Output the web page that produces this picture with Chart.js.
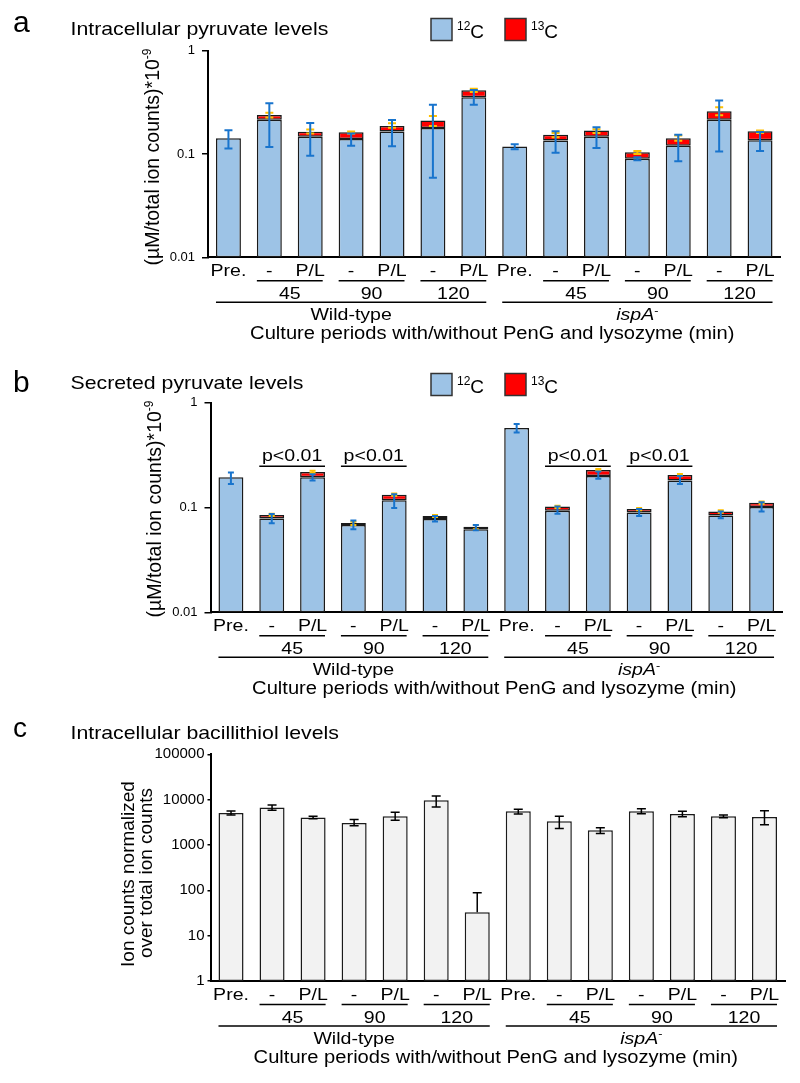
<!DOCTYPE html>
<html lang="en">
<head>
<meta charset="UTF-8">
<title>Pyruvate and bacillithiol levels</title>
<script src="https://cdn.jsdelivr.net/npm/chart.js"></script>
<style>
  body { margin: 0; background: #fff; }
  .panel { position: absolute; left: 0; }
</style>
</head>
<body>
<canvas id="chartA" class="panel" style="top:0px" width="800" height="355"></canvas>
<canvas id="chartB" class="panel" style="top:355px" width="800" height="355"></canvas>
<canvas id="chartC" class="panel" style="top:710px" width="800" height="373"></canvas>

<script>
// x axis: the same 14 bars in every panel
const categories = ['Pre.', '-', 'P/L', '-', 'P/L', '-', 'P/L', 'Pre.', '-', 'P/L', '-', 'P/L', '-', 'P/L'];
const timeLabels = ['45', '90', '120', '45', '90', '120'];
const timeFirstBar = [1, 3, 5, 8, 10, 12];
const strainFirstBar = [0, 7];
const strainLastBar = [6, 13];
const xAxisTitle = 'Culture periods with/without PenG and lysozyme (min)';

// log axis ticks
const pyrTicks = [0.01, 0.1, 1];
const pyrTickLabels = ['0.01', '0.1', '1'];
const bslTicks = [1, 10, 100, 1000, 10000, 100000];
const bslTickLabels = ['1', '10', '100', '1000', '10000', '100000'];

// a: intracellular pyruvate (uM/total ion counts *10^-9)
const a12C = [0.142, 0.215, 0.147, 0.140, 0.165, 0.179, 0.355, 0.118, 0.135, 0.147, 0.090, 0.120, 0.215, 0.136];
const a13C = [null, 0.023, 0.017, 0.022, 0.022, 0.032, 0.060, null, 0.019, 0.022, 0.014, 0.022, 0.045, 0.030];
const a12CErrLo = [0.113, 0.117, 0.096, 0.120, 0.119, 0.059, 0.300, 0.111, 0.103, 0.114, 0.087, 0.085, 0.106, 0.107];
const a12CErrHi = [0.170, 0.310, 0.200, 0.158, 0.213, 0.300, 0.417, 0.124, 0.166, 0.182, 0.093, 0.154, 0.330, 0.163];
const a13CErrLo = [null, 0.226, 0.158, 0.157, 0.180, 0.187, 0.398, null, 0.145, 0.160, 0.100, 0.134, 0.237, 0.160];
const a13CErrHi = [null, 0.251, 0.173, 0.165, 0.198, 0.233, 0.429, null, 0.160, 0.174, 0.107, 0.151, 0.283, 0.169];

// b: secreted pyruvate
const b12C = [0.194, 0.0786, 0.194, 0.068, 0.117, 0.0775, 0.062, 0.573, 0.093, 0.1995, 0.0896, 0.181, 0.084, 0.101];
const b13C = [null, 0.0064, 0.024, 0.003, 0.015, 0.0055, 0.0034, null, 0.009, 0.029, 0.007, 0.023, 0.0076, 0.010];
const b12CErrLo = [0.168, 0.0708, 0.181, 0.062, 0.099, 0.0735, 0.0605, 0.520, 0.087, 0.188, 0.083, 0.168, 0.079, 0.0916];
const b12CErrHi = [0.216, 0.0865, 0.208, 0.075, 0.134, 0.083, 0.068, 0.626, 0.102, 0.221, 0.0966, 0.200, 0.0916, 0.112];
const b13CErrLo = [null, 0.083, 0.213, 0.068, 0.129, 0.081, 0.062, null, 0.099, 0.224, 0.094, 0.199, 0.089, 0.108];
const b13CErrHi = [null, 0.087, 0.224, 0.073, 0.136, 0.085, 0.068, null, 0.104, 0.233, 0.099, 0.209, 0.094, 0.114];
const pPairs = [[1, 2], [3, 4], [8, 9], [10, 11]];
const pLabel = 'p<0.01';

// c: intracellular bacillithiol (ion counts normalized)
const cBsh = [5100, 6700, 4050, 3070, 4300, 9700, 33, 5550, 3350, 2100, 5550, 4850, 4300, 4150];
const cBshErrLo = [4600, 5800, 3800, 2650, 3500, 6900, null, 4800, 2300, 1800, 4900, 4200, 4000, 2800];
const cBshErrHi = [5600, 7600, 4300, 3650, 5300, 12000, 88, 6100, 4300, 2400, 6260, 5550, 4600, 5700];

const FONT = '"Liberation Sans", Arial, Helvetica, sans-serif';
const SX = 1.15; // the figure text is a bit wide
const BLUE = '#9dc3e6', RED = '#ff0000', ERR_BLUE = '#1874cd', ERR_YELLOW = '#ffc000', GREY = '#f2f2f2';
const TICK_AREA = 80; // room left of each y axis for its tick labels

// draw a run of text pieces (italic / superscript) with a horizontal stretch
function drawParts(ctx, parts, x, y, size, align, sx) {
    ctx.save();
    const fontFor = p => (p.italic ? 'italic ' : '') + (p.sup ? Math.round(size * 0.62) : size) + 'px ' + FONT;
    let w = 0;
    parts.forEach(p => { ctx.font = fontFor(p); w += ctx.measureText(p.t).width; });
    const total = w * sx;
    const x0 = align === 'center' ? x - total / 2 : align === 'right' ? x - total : x;
    ctx.translate(x0, y);
    ctx.scale(sx, 1);
    ctx.fillStyle = '#000';
    ctx.textAlign = 'left';
    ctx.textBaseline = 'alphabetic';
    let cx = 0;
    parts.forEach(p => {
        ctx.font = fontFor(p);
        ctx.fillText(p.t, cx, p.sup ? -size * 0.4 : 0);
        cx += ctx.measureText(p.t).width;
    });
    ctx.restore();
}
const plain = s => [{ t: s }];

function hline(ctx, x1, x2, y, lw) {
    ctx.save();
    ctx.strokeStyle = '#000';
    ctx.lineWidth = lw || 1.5;
    ctx.beginPath();
    ctx.moveTo(x1, y);
    ctx.lineTo(x2, y);
    ctx.stroke();
    ctx.restore();
}

function drawErrors(chart, lo, hi, color, cap, lw) {
    const ctx = chart.ctx;
    const y = chart.scales.y;
    const meta = chart.getDatasetMeta(0);
    ctx.save();
    ctx.strokeStyle = color;
    ctx.lineWidth = lw;
    hi.forEach((h, i) => {
        if (h == null) return;
        const x = meta.data[i].x;
        const yh = y.getPixelForValue(h);
        const yl = lo[i] == null ? meta.data[i].y : y.getPixelForValue(lo[i]);
        ctx.beginPath();
        ctx.moveTo(x, yl);
        ctx.lineTo(x, yh);
        ctx.moveTo(x - cap / 2, yh);
        ctx.lineTo(x + cap / 2, yh);
        if (lo[i] != null) {
            ctx.moveTo(x - cap / 2, yl);
            ctx.lineTo(x + cap / 2, yl);
        }
        ctx.stroke();
    });
    ctx.restore();
}

function makeDecor(cfg) {
    return {
        id: 'decor',
        afterDatasetsDraw(chart) {
            cfg.errors.forEach(e => drawErrors(chart, e.lo, e.hi, e.color, e.cap, e.lw));
        },
        afterDraw(chart) {
            const ctx = chart.ctx;
            const area = chart.chartArea;
            const xs = chart.scales.x;
            const meta = chart.getDatasetMeta(0);
            const half = meta.data[0].width / 2;
            const b = area.bottom;

            // panel letter and title
            drawParts(ctx, plain(cfg.letter), 13, cfg.letterY, cfg.letterSize, 'left', 1);
            drawParts(ctx, plain(cfg.title), 70.5, cfg.titleY, 18.5, 'left', SX);

            // legend
            if (cfg.legend) {
                [[431, BLUE, '12'], [505, RED, '13']].forEach(([lx, col, mass]) => {
                    ctx.save();
                    ctx.fillStyle = col;
                    ctx.strokeStyle = '#333';
                    ctx.lineWidth = 1.5;
                    ctx.fillRect(lx, cfg.legendY, 21, 22);
                    ctx.strokeRect(lx, cfg.legendY, 21, 22);
                    ctx.restore();
                    drawParts(ctx, [{ t: mass, sup: true }, { t: 'C' }], lx + 26, cfg.legendY + 19, 19, 'left', 1);
                });
            }

            // y axis title (rotated)
            cfg.yTitle.forEach(line => {
                ctx.save();
                ctx.translate(line.x, line.cy);
                ctx.rotate(-Math.PI / 2);
                drawParts(ctx, line.parts, 0, 0, line.size, 'center', 1);
                ctx.restore();
            });

            // p-value brackets
            (cfg.brackets || []).forEach(([i, j]) => {
                const l = xs.getPixelForValue(i) - half, r = xs.getPixelForValue(j) + half;
                const yb = area.top + 63.5;
                hline(ctx, l, r, yb, 1.5);
                drawParts(ctx, plain(pLabel), (l + r) / 2, yb - 5, 17, 'center', SX);
            });

            // grouped x axis labels
            categories.forEach((c, i) => {
                drawParts(ctx, plain(c), xs.getPixelForValue(i), b + 18.5, 17, 'center', SX);
            });
            timeFirstBar.forEach((f, k) => {
                const l = xs.getPixelForValue(f) - half, r = xs.getPixelForValue(f + 1) + half;
                hline(ctx, l, r, b + 23.5, 1.5);
                drawParts(ctx, plain(timeLabels[k]), (l + r) / 2, b + 41.5, 17, 'center', SX);
            });
            const strainParts = [plain('Wild-type'), [{ t: 'ispA', italic: true }, { t: '-', sup: true }]];
            strainFirstBar.forEach((f, k) => {
                const l = xs.getPixelForValue(f) - half, r = xs.getPixelForValue(strainLastBar[k]) + half;
                hline(ctx, l, r, b + 45, 1.5);
                drawParts(ctx, strainParts[k], (l + r) / 2, b + 63, 17, 'center', SX);
            });
            drawParts(ctx, plain(xAxisTitle), (area.left + area.right) / 2 - 2, b + 81.5, 17.5, 'center', SX);
        }
    };
}

function logAxis(ticks, labels, fontSize, stacked, tickLen, pad) {
    return {
        type: 'logarithmic',
        stacked: stacked,
        min: ticks[0],
        max: ticks[ticks.length - 1],
        z: 1,
        afterBuildTicks: s => { s.ticks = ticks.map(v => ({ value: v })); },
        afterFit: s => { s.width = TICK_AREA; },
        ticks: {
            callback: (v, i) => labels[i],
            color: '#000',
            padding: pad,
            font: { family: FONT, size: fontSize }
        },
        grid: { drawOnChartArea: false, drawTicks: true, tickLength: tickLen, color: '#000', lineWidth: 1.5 },
        border: { display: true, color: '#000', width: 2 }
    };
}

function catAxis(stacked) {
    return {
        type: 'category',
        stacked: stacked,
        z: 1,
        afterFit: s => { s.height = 0; },
        ticks: { display: false },
        grid: { display: false },
        border: { display: true, color: '#000', width: 2 }
    };
}

function barSet(label, data, color) {
    return {
        label: label,
        data: data,
        backgroundColor: color,
        borderColor: '#1a1a1a',
        borderWidth: 1.5,
        borderSkipped: false,
        barPercentage: 0.61,
        categoryPercentage: 1
    };
}

const pyrTitle = [{ t: '(µM/total ion counts)*10' }, { t: '-9', sup: true }];

new Chart(document.getElementById('chartA'), {
    type: 'bar',
    data: {
        labels: categories,
        datasets: [barSet('12C', a12C, BLUE), barSet('13C', a13C, RED)]
    },
    options: {
        responsive: false,
        animation: false,
        layout: { padding: { left: 208 - TICK_AREA, right: 19.5, top: 50.7, bottom: 97.7 } },
        plugins: { legend: { display: false }, tooltip: { enabled: false } },
        scales: { x: catAxis(true), y: logAxis(pyrTicks, pyrTickLabels, 13, true, 6, 7) }
    },
    plugins: [makeDecor({
        letter: 'a', letterY: 32, letterSize: 30,
        title: 'Intracellular pyruvate levels', titleY: 35,
        legend: true, legendY: 18.5,
        yTitle: [{ x: 159, cy: 157, size: 19.5, parts: pyrTitle }],
        errors: [
            { lo: a13CErrLo, hi: a13CErrHi, color: ERR_YELLOW, cap: 8, lw: 2 },
            { lo: a12CErrLo, hi: a12CErrHi, color: ERR_BLUE, cap: 8, lw: 2 }
        ]
    })]
});

new Chart(document.getElementById('chartB'), {
    type: 'bar',
    data: {
        labels: categories,
        datasets: [barSet('12C', b12C, BLUE), barSet('13C', b13C, RED)]
    },
    options: {
        responsive: false,
        animation: false,
        layout: { padding: { left: 210.5 - TICK_AREA, right: 18, top: 47.7, bottom: 97.7 } },
        plugins: { legend: { display: false }, tooltip: { enabled: false } },
        scales: { x: catAxis(true), y: logAxis(pyrTicks, pyrTickLabels, 13, true, 6, 7) }
    },
    plugins: [makeDecor({
        letter: 'b', letterY: 36.5, letterSize: 30,
        title: 'Secreted pyruvate levels', titleY: 34.3,
        legend: true, legendY: 18.5,
        yTitle: [{ x: 161, cy: 154, size: 19.5, parts: pyrTitle }],
        brackets: pPairs,
        errors: [
            { lo: b13CErrLo, hi: b13CErrHi, color: ERR_YELLOW, cap: 6, lw: 2 },
            { lo: b12CErrLo, hi: b12CErrHi, color: ERR_BLUE, cap: 6, lw: 2 }
        ]
    })]
});

new Chart(document.getElementById('chartC'), {
    type: 'bar',
    data: {
        labels: categories,
        datasets: [barSet('Bacillithiol', cBsh, GREY)]
    },
    options: {
        responsive: false,
        animation: false,
        layout: { padding: { left: 210.5 - TICK_AREA, right: 15, top: 44.3, bottom: 102 } },
        plugins: { legend: { display: false }, tooltip: { enabled: false } },
        scales: { x: catAxis(false), y: logAxis(bslTicks, bslTickLabels, 15, false, 3, 3) }
    },
    plugins: [makeDecor({
        letter: 'c', letterY: 27, letterSize: 28,
        title: 'Intracellular bacillithiol levels', titleY: 29.3,
        legend: false,
        yTitle: [
            { x: 134, cy: 164, size: 19, parts: plain('Ion counts normalized') },
            { x: 152, cy: 163, size: 19, parts: plain('over total ion counts') }
        ],
        errors: [{ lo: cBshErrLo, hi: cBshErrHi, color: '#000', cap: 9, lw: 1.5 }]
    })]
});
</script>
</body>
</html>
